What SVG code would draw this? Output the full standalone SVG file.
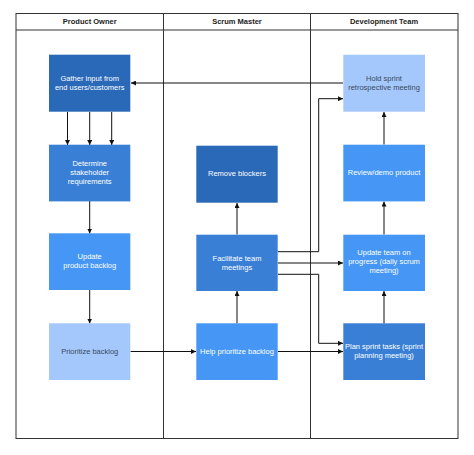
<svg xmlns="http://www.w3.org/2000/svg" width="474" height="455" viewBox="0 0 474 455">
<style>
.lane{fill:none;stroke:#333;stroke-width:1}
.hd{font-family:"Liberation Sans",Arial,sans-serif;font-size:7.5px;font-weight:bold;fill:#222;text-anchor:middle}
.t{font-family:"Liberation Sans",Arial,sans-serif;font-size:7.5px;fill:#fff;text-anchor:middle}
.td{font-family:"Liberation Sans",Arial,sans-serif;font-size:7.5px;fill:#3a4a60;text-anchor:middle}
.c{fill:none;stroke:#111;stroke-width:1}
.dk{fill:#2a69b8}
.md{fill:#3a7fd6}
.br{fill:#4596f5}
.lt{fill:#a4c8fb}
</style>
<defs>
<marker id="ah" viewBox="0 0 10 10" refX="10" refY="5" markerWidth="5" markerHeight="5" orient="auto" markerUnits="userSpaceOnUse">
<path d="M0,0 L10,5 L0,10 z" fill="#111"/>
</marker>
</defs>
<rect width="474" height="455" fill="#fff"/>
<g id="lanes">
<rect class="lane" x="16" y="13.5" width="442" height="425"/>
<line class="lane" x1="16" y1="30" x2="458" y2="30"/>
<line class="lane" x1="163.5" y1="13.5" x2="163.5" y2="438.5"/>
<line class="lane" x1="310.5" y1="13.5" x2="310.5" y2="438.5"/>
<text class="hd" x="89.7" y="24">Product Owner</text>
<text class="hd" x="237" y="24">Scrum Master</text>
<text class="hd" x="384" y="24">Development Team</text>
</g>
<g id="connectors">
<line class="c" x1="343" y1="83" x2="131" y2="83" marker-end="url(#ah)"/>
<line class="c" x1="67.5" y1="112" x2="67.5" y2="145" marker-end="url(#ah)"/>
<line class="c" x1="89.7" y1="112" x2="89.7" y2="145" marker-end="url(#ah)"/>
<line class="c" x1="111.7" y1="112" x2="111.7" y2="145" marker-end="url(#ah)"/>
<line class="c" x1="89.7" y1="201" x2="89.7" y2="233.5" marker-end="url(#ah)"/>
<line class="c" x1="89.7" y1="290" x2="89.7" y2="323.5" marker-end="url(#ah)"/>
<line class="c" x1="130.5" y1="351.5" x2="196" y2="351.5" marker-end="url(#ah)"/>
<line class="c" x1="278" y1="351.5" x2="343" y2="351.5" marker-end="url(#ah)"/>
<line class="c" x1="237" y1="323.5" x2="237" y2="291" marker-end="url(#ah)"/>
<line class="c" x1="237" y1="234.5" x2="237" y2="203" marker-end="url(#ah)"/>
<polyline class="c" points="278,251.7 318.7,251.7 318.7,98.7 343,98.7" marker-end="url(#ah)"/>
<line class="c" x1="278" y1="263" x2="343" y2="263" marker-end="url(#ah)"/>
<polyline class="c" points="278,274.3 318.7,274.3 318.7,343.3 343,343.3" marker-end="url(#ah)"/>
<line class="c" x1="384" y1="323.5" x2="384" y2="291" marker-end="url(#ah)"/>
<line class="c" x1="384" y1="234.5" x2="384" y2="201.5" marker-end="url(#ah)"/>
<line class="c" x1="384" y1="144.5" x2="384" y2="112" marker-end="url(#ah)"/>
</g>
<g id="gather">
<rect class="dk" x="49" y="54.7" width="81.3" height="57"/>
<text class="t" x="89.7" y="80.7">Gather input from</text>
<text class="t" x="89.7" y="89.7">end users/customers</text>
</g>
<g id="determine">
<rect class="md" x="49" y="144.7" width="81.3" height="56.7"/>
<text class="t" x="89.7" y="166">Determine</text>
<text class="t" x="89.7" y="175">stakeholder</text>
<text class="t" x="89.7" y="184">requirements</text>
</g>
<g id="update-backlog">
<rect class="br" x="49" y="233.3" width="81.3" height="56.7"/>
<text class="t" x="89.7" y="259">Update</text>
<text class="t" x="89.7" y="268">product backlog</text>
</g>
<g id="prioritize">
<rect class="lt" x="49" y="323.3" width="81.3" height="56.7"/>
<text class="td" x="89.7" y="353.5">Prioritize backlog</text>
</g>
<g id="remove-blockers">
<rect class="dk" x="196.3" y="145.7" width="81.4" height="57"/>
<text class="t" x="237" y="176">Remove blockers</text>
</g>
<g id="facilitate">
<rect class="md" x="196.3" y="234.7" width="81.4" height="56.3"/>
<text class="t" x="237" y="260.5">Facilitate team</text>
<text class="t" x="237" y="269.5">meetings</text>
</g>
<g id="help-prioritize">
<rect class="br" x="196.3" y="323.3" width="81.4" height="56.7"/>
<text class="t" x="237" y="353.5">Help prioritize backlog</text>
</g>
<g id="hold-retro">
<rect class="lt" x="343.3" y="54.7" width="81.7" height="57"/>
<text class="td" x="384" y="80.7">Hold sprint</text>
<text class="td" x="384" y="89.7">retrospective meeting</text>
</g>
<g id="review">
<rect class="br" x="343.3" y="144.7" width="81.7" height="56.7"/>
<text class="t" x="384" y="175">Review/demo product</text>
</g>
<g id="update-team">
<rect class="br" x="343.3" y="234.7" width="81.7" height="56.3"/>
<text class="t" x="384" y="255">Update team on</text>
<text class="t" x="384" y="264">progress (daily scrum</text>
<text class="t" x="384" y="273">meeting)</text>
</g>
<g id="plan-sprint">
<rect class="md" x="343.3" y="323.3" width="81.7" height="56.7"/>
<text class="t" x="384" y="348.5">Plan sprint tasks (sprint</text>
<text class="t" x="384" y="357.5">planning meeting)</text>
</g>
</svg>
